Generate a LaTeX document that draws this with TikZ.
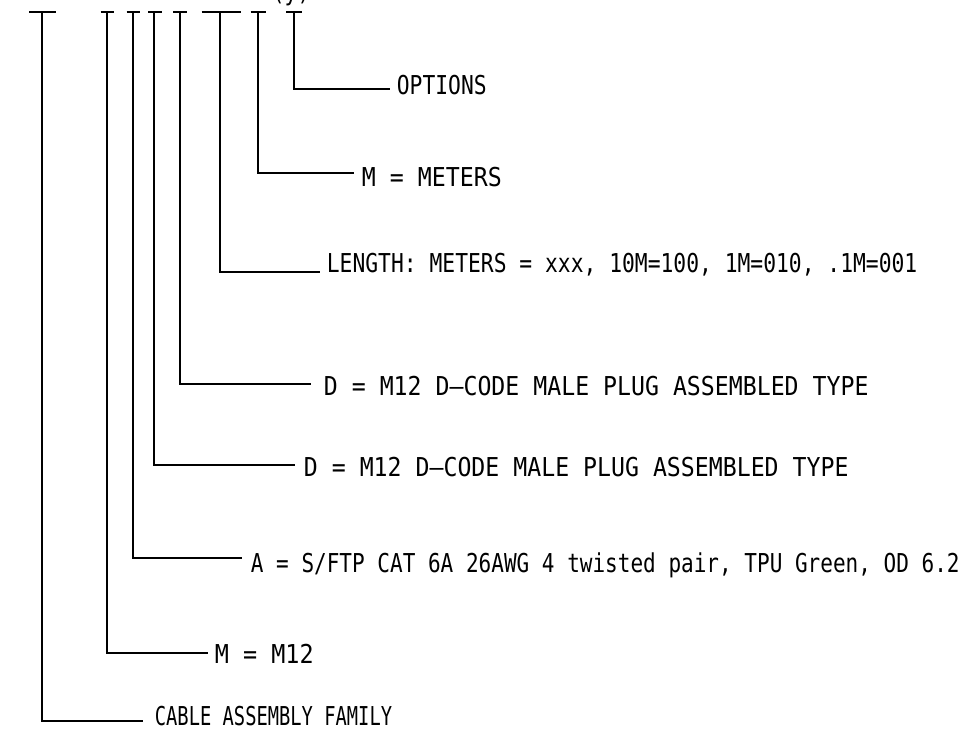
\documentclass[tikz,border=0pt]{standalone}
\usepackage{fontspec}
\setmainfont{DejaVu Sans Mono}[FakeStretch=0.82]
\usepackage{graphicx}
\usepackage{tikz}

% horizontal stretch of one label
\newcommand{\wide}[2]{\scalebox{#1}[1]{#2}}

\begin{document}
\begin{tikzpicture}[
  x=1pt, y=-1pt,
  line width=1.8pt,
  font=\fontsize{26}{30}\selectfont,
  callout/.style={anchor=base west, inner sep=0pt},
  ]
  \def\Ytop{12}

  \useasboundingbox (0, 0) rectangle (968, 730);

  % Part number fragment (cut off at the top edge)
  \node[callout] (code) at (271, 1) {(y)};

  % Underline bars of the part number
  \coordinate (b1) at (42.3, \Ytop);
  \coordinate (b2) at (107, \Ytop);
  \coordinate (b3) at (133.3, \Ytop);
  \coordinate (b4) at (154.3, \Ytop);
  \coordinate (b5) at (180, \Ytop);
  \coordinate (b6) at (220.3, \Ytop);
  \coordinate (b7) at (257.7, \Ytop);
  \coordinate (b8) at (293.7, \Ytop);
  \draw (29, \Ytop) -- (55.7, \Ytop);
  \draw (100.7, \Ytop) -- (114.3, \Ytop);
  \draw (126.7, \Ytop) -- (140, \Ytop);
  \draw (148, \Ytop) -- (161.7, \Ytop);
  \draw (173, \Ytop) -- (186.7, \Ytop);
  \draw (201.7, \Ytop) -- (241.3, \Ytop);
  \draw (250.7, \Ytop) -- (265.7, \Ytop);
  \draw (286, \Ytop) -- (301.7, \Ytop);

  % Options
  \node[callout] (options) at (396, 94.3) {OPTIONS};
  \coordinate (e8) at (390, 89);
  \draw (b8) |- (e8);

  % Meters
  \node[callout] (meters) at (361, 186) {\wide{1.09}{M = METERS}};
  \coordinate (e7) at (354, 172.7);
  \draw (b7) |- (e7);

  % Length
  \node[callout] (length) at (326, 272.7) {LENGTH: METERS = xxx, 10M=100, 1M=010, .1M=001};
  \coordinate (e6) at (320, 272.3);
  \draw (b6) |- (e6);

  % Second plug
  \node[callout] (plugb) at (323, 395) {\wide{1.088}{D = M12 D--CODE MALE PLUG ASSEMBLED TYPE}};
  \coordinate (e5) at (310.7, 384.3);
  \draw (b5) |- (e5);

  % First plug
  \node[callout] (pluga) at (303, 476.7) {\wide{1.088}{D = M12 D--CODE MALE PLUG ASSEMBLED TYPE}};
  \coordinate (e4) at (295, 465);
  \draw (b4) |- (e4);

  % Cable
  \node[callout] (cable) at (250, 572) {\wide{0.986}{A = S/FTP CAT 6A 26AWG 4 twisted pair, TPU Green, OD 6.2}};
  \coordinate (e3) at (241.7, 558);
  \draw (b3) |- (e3);

  % Connector size
  \node[callout] (size) at (214, 663) {\wide{1.1}{M = M12}};
  \coordinate (e2) at (208, 653);
  \draw (b2) |- (e2);

  % Family
  \node[callout] (family) at (154, 725) {\wide{0.88}{CABLE ASSEMBLY FAMILY}};
  \coordinate (e1) at (143, 721);
  \draw (b1) |- (e1);
\end{tikzpicture}
\end{document}
